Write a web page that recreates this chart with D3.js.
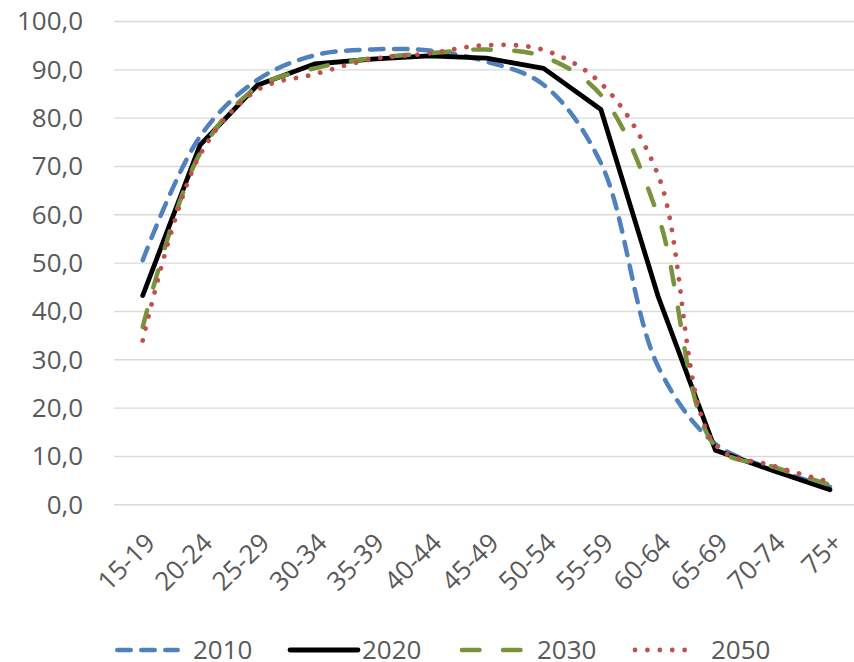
<!DOCTYPE html>
<html>
<head>
<meta charset="utf-8">
<script src="https://cdn.jsdelivr.net/npm/d3@7/dist/d3.min.js"></script>
<style>
  html, body { margin: 0; padding: 0; background: #fff; }
  svg { display: block; }
  text { font-family: "Open Sans", "Liberation Sans", sans-serif; fill: #595959; }
</style>
</head>
<body>
<svg id="chart" width="854" height="662"></svg>
<script>
const categories = ["15-19","20-24","25-29","30-34","35-39","40-44","45-49","50-54","55-59","60-64","65-69","70-74","75+"];
const s2010 = [50.5, 76.1, 87.8, 92.9, 94.1, 93.9, 91.6, 86.8, 70.6, 28.5, 12.5, 7.3, 3.6];
const s2020 = [43.2, 74.3, 86.7, 91.1, 92.1, 92.8, 92.3, 90.2, 81.7, 43.0, 11.2, 7.0, 3.0];
const s2030 = [36.7, 72.6, 86.3, 90.2, 92.3, 93.3, 94.1, 92.6, 84.7, 59.6, 12.0, 7.8, 4.0];
const s2050 = [33.9, 72.3, 85.7, 89.0, 92.1, 93.3, 95.0, 94.0, 87.1, 68.1, 12.3, 8.0, 4.6];
const yTicks = [0,10,20,30,40,50,60,70,80,90,100];
const seriesNames = ["2010","2020","2030","2050"];

const series = [
  {name: seriesNames[0], values: s2010, color: "#4F81BD", width: 4.5, dash: "13.5 10.5", smooth: true},
  {name: seriesNames[1], values: s2020, color: "#000000", width: 4.8, dash: null, smooth: false},
  {name: seriesNames[2], values: s2030, color: "#77933C", width: 4.5, dash: "17.5 23.5", smooth: true},
  {name: seriesNames[3], values: s2050, color: "#C0504D", width: 4.8, dash: "0.01 12.4", smooth: true}
];

const svg = d3.select("#chart");
const plotLeft = 114.1, plotRight = 858.6, plotTop = 21, plotBottom = 504.3;

const x = d3.scaleBand().domain(categories).range([plotLeft, plotRight]).padding(0);
const y = d3.scaleLinear().domain([0, 100]).range([plotBottom, plotTop]);
const cx = c => x(c) + x.bandwidth() / 2;

// gridlines + y labels
const yAxis = d3.axisLeft(y).tickValues(yTicks)
  .tickSizeInner(-(854 - plotLeft)).tickSizeOuter(0).tickPadding(31)
  .tickFormat(d => d3.format(".1f")(d).replace(".", ","));
const gy = svg.append("g").attr("transform", `translate(${plotLeft},0)`).call(yAxis);
gy.select(".domain").remove();
gy.selectAll(".tick line").attr("stroke", "#d9d9d9").attr("stroke-width", 1.4);
gy.selectAll(".tick text").attr("font-size", 26).attr("fill", "#595959")
  .attr("font-family", '"Open Sans", "Liberation Sans", sans-serif').attr("dy", "0.34em");

// x labels
const xAxis = d3.axisBottom(x).tickSize(0).tickPadding(0);
const gx = svg.append("g").attr("transform", `translate(0,${plotBottom})`).call(xAxis);
gx.select(".domain").remove();
gx.selectAll(".tick text")
  .attr("font-size", 26).attr("fill", "#595959")
  .attr("font-family", '"Open Sans", "Liberation Sans", sans-serif')
  .attr("text-anchor", "end").attr("dy", null).attr("y", 0)
  .attr("dominant-baseline", "central")
  .attr("transform", "translate(7,33) rotate(-45)");

// lines
const lineSmooth = d3.line().x((d, i) => cx(categories[i])).y(d => y(d)).curve(d3.curveCatmullRom.alpha(0.5));
const lineStraight = d3.line().x((d, i) => cx(categories[i])).y(d => y(d));

series.forEach(s => {
  svg.append("path")
    .attr("d", (s.smooth ? lineSmooth : lineStraight)(s.values))
    .attr("fill", "none")
    .attr("stroke", s.color)
    .attr("stroke-width", s.width)
    .attr("stroke-linecap", "round")
    .attr("stroke-linejoin", "round")
    .attr("stroke-dasharray", s.dash);
});

// legend
const legendY = 650;
const legendItems = [
  {x1: 117.25, x2: 177.75, tx: 193},
  {x1: 290, x2: 358, tx: 362},
  {x1: 462, x2: 523, tx: 537},
  {x1: 635, x2: 697, tx: 711}
];
series.forEach((s, i) => {
  const it = legendItems[i];
  svg.append("line")
    .attr("x1", it.x1).attr("x2", it.x2).attr("y1", legendY).attr("y2", legendY)
    .attr("stroke", s.color).attr("stroke-width", s.width)
    .attr("stroke-linecap", "round").attr("stroke-dasharray", s.dash);
  svg.append("text")
    .attr("x", it.tx).attr("y", legendY).attr("dy", "0.35em")
    .attr("font-size", 26).text(s.name);
});
</script>
</body>
</html>
